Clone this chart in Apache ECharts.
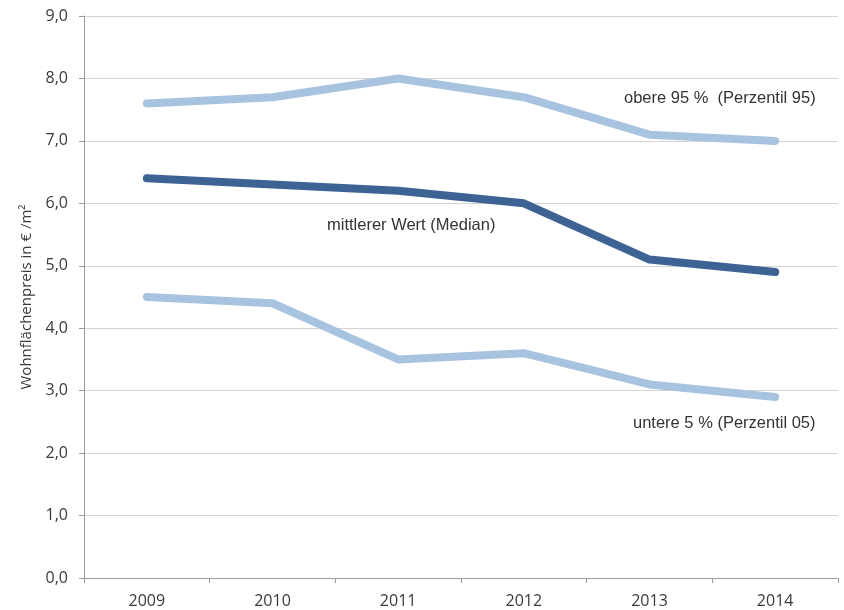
<!DOCTYPE html>
<html>
<head>
<meta charset="utf-8">
<script src="https://cdn.jsdelivr.net/npm/echarts@6/dist/echarts.min.js"></script>
<style>
  html, body { margin: 0; padding: 0; background: #fff; }
  #chart { width: 844px; height: 610px; }
</style>
</head>
<body>
<div id="chart"></div>
<script>
// Wohnflächenpreise 2009–2014: Perzentile und Median
const years = ['2009', '2010', '2011', '2012', '2013', '2014'];
const p95 = [7.6, 7.7, 8.0, 7.7, 7.1, 7.0];
const median = [6.4, 6.3, 6.2, 6.0, 5.1, 4.9];
const p05 = [4.5, 4.4, 3.5, 3.6, 3.1, 2.9];

const seriesNames = ['obere 95 %  (Perzentil 95)', 'mittlerer Wert (Median)', 'untere 5 % (Perzentil 05)'];
const yTitle = 'Wohnflächenpreis in € /m²';

const lightBlue = '#a7c3e0';
const darkBlue = '#3d6394';
const labelFont = '"Open Sans", "DejaVu Sans", sans-serif';
const noteFont = '"Liberation Sans", Arial, sans-serif';

const chart = echarts.init(document.getElementById('chart'));

function line(name, data, color) {
  return {
    name: name,
    type: 'line',
    data: data,
    symbol: 'none',
    smooth: false,
    lineStyle: { color: color, width: 8, cap: 'round', join: 'round' },
    animation: false
  };
}

function note(text, x, y) {
  return {
    type: 'text', x: x, y: y,
    style: { text: text, fill: '#333', font: '16.5px ' + noteFont, verticalAlign: 'middle' }
  };
}

chart.setOption({
  backgroundColor: '#ffffff',
  animation: false,
  grid: { left: 84, right: 6, top: 16, bottom: 32 },
  xAxis: {
    type: 'category',
    data: years,
    boundaryGap: true,
    axisLine: { lineStyle: { color: '#9a9a9a', width: 1 } },
    axisTick: { show: true, length: 5, lineStyle: { color: '#9a9a9a' } },
    axisLabel: { color: '#3a3a3a', fontSize: 16, fontFamily: labelFont, margin: 15 }
  },
  yAxis: {
    type: 'value',
    min: 0,
    max: 9,
    interval: 1,
    name: yTitle,
    nameLocation: 'middle',
    nameGap: 45,
    nameTextStyle: { color: '#3a3a3a', fontSize: 15, fontFamily: labelFont },
    axisLine: { show: true, lineStyle: { color: '#9a9a9a', width: 1 } },
    axisTick: { show: true, length: 5, lineStyle: { color: '#9a9a9a' } },
    splitLine: { lineStyle: { color: '#d4d4d4', width: 1 } },
    axisLabel: {
      color: '#3a3a3a', fontSize: 16, fontFamily: labelFont, margin: 16,
      formatter: v => v.toFixed(1).replace('.', ',')
    }
  },
  series: [
    line(seriesNames[0], p95, lightBlue),
    line(seriesNames[2], p05, lightBlue),
    line(seriesNames[1], median, darkBlue)
  ],
  graphic: [
    note(seriesNames[0], 624, 98),
    note(seriesNames[1], 327, 225),
    note(seriesNames[2], 633, 423)
  ]
});
</script>
</body>
</html>
